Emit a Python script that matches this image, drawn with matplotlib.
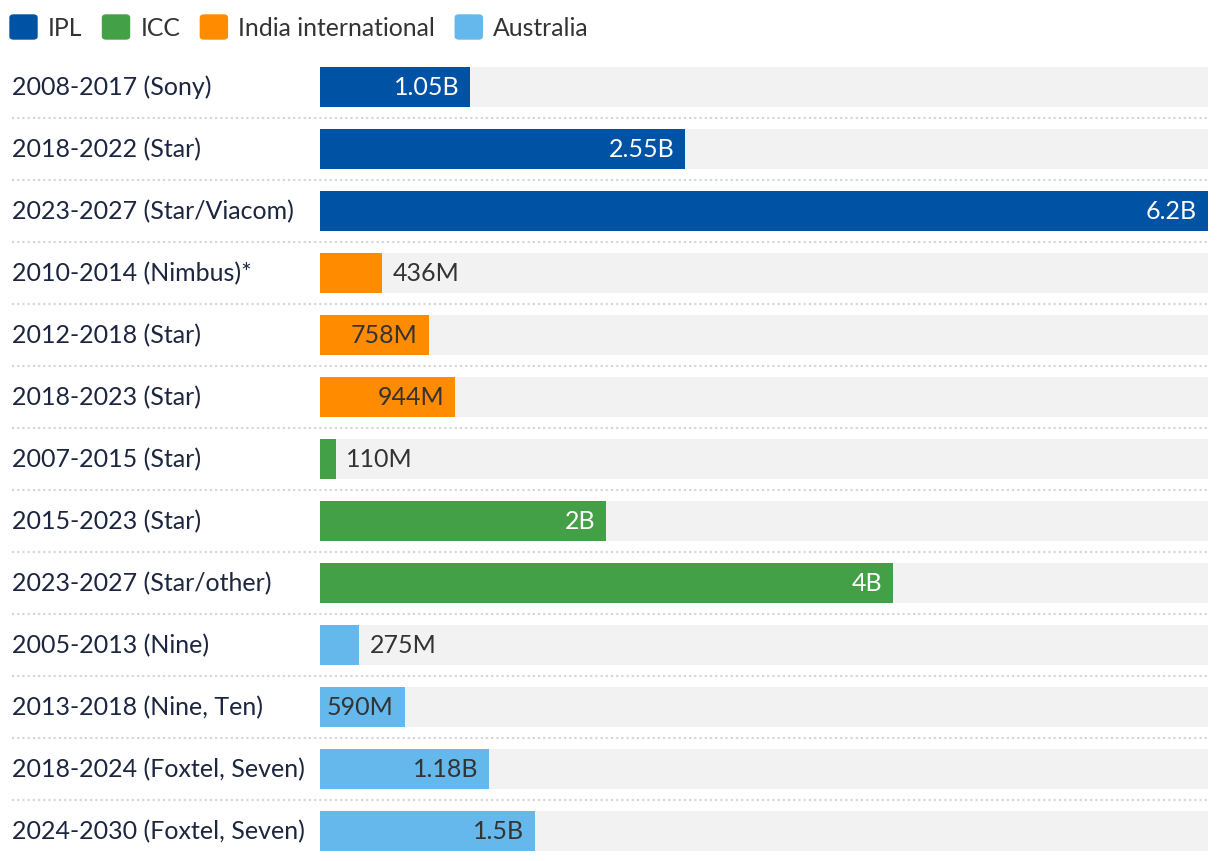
import matplotlib
matplotlib.use("Agg")
import matplotlib.pyplot as plt
from matplotlib.patches import FancyBboxPatch
from matplotlib.lines import Line2D
from matplotlib.transforms import blended_transform_factory

plt.rcParams['font.family'] = ['Lato', 'DejaVu Sans']

# --- data ---
labels = [
    "2008-2017 (Sony)", "2018-2022 (Star)", "2023-2027 (Star/Viacom)",
    "2010-2014 (Nimbus)*", "2012-2018 (Star)", "2018-2023 (Star)",
    "2007-2015 (Star)", "2015-2023 (Star)", "2023-2027 (Star/other)",
    "2005-2013 (Nine)", "2013-2018 (Nine, Ten)", "2018-2024 (Foxtel, Seven)",
    "2024-2030 (Foxtel, Seven)",
]
values = [1.05, 2.55, 6.2, 0.436, 0.758, 0.944, 0.110, 2.0, 4.0, 0.275, 0.590, 1.18, 1.5]
value_text = ["1.05B", "2.55B", "6.2B", "436M", "758M", "944M", "110M", "2B", "4B",
              "275M", "590M", "1.18B", "1.5B"]
groups = ["IPL"] * 3 + ["India international"] * 3 + ["ICC"] * 3 + ["Australia"] * 4

legend_order = ["IPL", "ICC", "India international", "Australia"]
group_colors = {"IPL": "#0052a5", "ICC": "#43a047",
                "India international": "#ff8c00", "Australia": "#64b8ec"}
text_on_bar = {"IPL": "white", "ICC": "white",
               "India international": "#333333", "Australia": "#333333"}

FS = 18
W, H = 1220, 862
fig = plt.figure(figsize=(W / 100, H / 100), dpi=100)
ax = fig.add_axes([320 / W, (H - 862.5) / H, 888 / W, 806 / H])
renderer = fig.canvas.get_renderer()

xmax = max(values)
n = len(labels)
ypos = list(range(n))
bar_h = 40 / 62

ax.barh(ypos, [xmax] * n, height=bar_h, color="#f2f2f2", zorder=1)
ax.barh(ypos, values, height=bar_h, color=[group_colors[g] for g in groups], zorder=2)
ax.set_xlim(0, xmax)
ax.set_ylim(n - 0.5, -0.5)
ax.axis("off")

px = xmax / 888  # data units per pixel
label_tr = blended_transform_factory(fig.transFigure, ax.transData)

for i, (lab, v, t, g) in enumerate(zip(labels, values, value_text, groups)):
    ax.text(12 / W, i, lab, transform=label_tr, ha="left", va="center",
            fontsize=FS, color="#1c2640")
    # measure the value label to decide inside / outside the bar
    tmp = ax.text(0, i, t, fontsize=FS)
    w = tmp.get_window_extent(renderer=renderer).width
    tmp.remove()
    if w + 16 < v / px:
        ax.text(v - 11 * px, i, t, ha="right", va="center", fontsize=FS,
                color=text_on_bar[g], zorder=3)
    else:
        ax.text(v + 10 * px, i, t, ha="left", va="center", fontsize=FS,
                color="#333333", zorder=3)

# dotted separators between rows
for i in range(n - 1):
    fig.add_artist(Line2D([12 / W, 1208 / W], [i + 0.5, i + 0.5], transform=label_tr,
                          color="#d4d4d4", linewidth=1.5, linestyle=(0, (1, 1.5))))

# legend
x = 10
for g in legend_order:
    fig.add_artist(FancyBboxPatch((x / W, (H - 40) / H), 27 / W, 24 / H,
                                  boxstyle="round,pad=0,rounding_size=0.003",
                                  transform=fig.transFigure, color=group_colors[g]))
    t = fig.text((x + 38) / W, (H - 28) / H, g, ha="left", va="center",
                 fontsize=17.8, color="#333333")
    tw = t.get_window_extent(renderer=renderer).width
    x = x + 38 + tw + 20

fig.savefig("out.png", dpi=100)
